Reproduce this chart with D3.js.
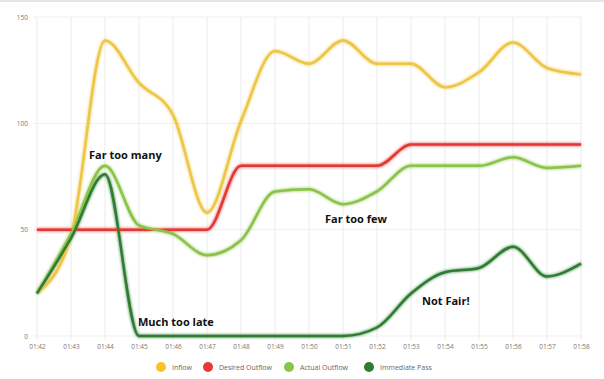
<!DOCTYPE html>
<html>
<head>
<meta charset="utf-8">
<script src="https://cdn.jsdelivr.net/npm/d3@7"></script>
<style>
body { margin: 0; background: #fff; }
svg { display: block; }
</style>
</head>
<body>
<div id="chart"></div>
<script>
const timeLabels = ['01:42','01:43','01:44','01:45','01:46','01:47','01:48','01:49','01:50','01:51','01:52','01:53','01:54','01:55','01:56','01:57','01:58'];
const yTicks = [0, 50, 100, 150];

const inflow         = [20, 47, 139, 119, 104, 58, 101, 134, 128, 139, 128, 128, 117, 124, 138, 126, 123];
const desiredOutflow = [50, 50, 50, 50, 50, 50, 80, 80, 80, 80, 80, 90, 90, 90, 90, 90, 90];
const actualOutflow  = [20, 48, 80, 52, 48, 38, 45, 68, 69, 62, 68, 80, 80, 80, 84, 79, 80];
const immediatePass  = [20, 46, 76, 0, 0, 0, 0, 0, 0, 0, 4, 20, 30, 32, 42, 28, 34];

const seriesNames  = ['Inflow', 'Desired Outflow', 'Actual Outflow', 'Immediate Pass'];
const seriesColors = ['#eec646', '#e53935', '#8bc34a', '#2e7d32'];
const seriesValues = [inflow, desiredOutflow, actualOutflow, immediatePass];

const notes = [
  {text: 'Far too many', t: '01:44', v: 83, dx: -16},
  {text: 'Far too few', t: '01:51', v: 53, dx: -18},
  {text: 'Much too late', t: '01:45', v: 4.5, dx: -1},
  {text: 'Not Fair!', t: '01:54', v: 14.5, dx: -23}
];

const W = 604, H = 379;
const svg = d3.select('#chart').append('svg').attr('width', W).attr('height', H);

// faint card edge at top
svg.append('rect').attr('x', 0).attr('y', 0).attr('width', W).attr('height', 2).attr('fill', '#e6e6e6');

const defs = svg.append('defs');
const f = defs.append('filter').attr('id', 'glow').attr('x', '-5%').attr('y', '-5%').attr('width', '110%').attr('height', '110%');
f.append('feGaussianBlur').attr('in', 'SourceGraphic').attr('stdDeviation', 1.6).attr('result', 'b');
const fm = f.append('feMerge');
fm.append('feMergeNode').attr('in', 'b');
fm.append('feMergeNode').attr('in', 'SourceGraphic');

const x = d3.scalePoint().domain(timeLabels).range([37, 581]);
const y = d3.scaleLinear().domain([0, 150]).range([336, 17]);

// grid
const grid = svg.append('g');
grid.selectAll('line.v').data(timeLabels).enter().append('line')
  .attr('x1', d => x(d)).attr('x2', d => x(d))
  .attr('y1', y(150)).attr('y2', y(0) + 4)
  .attr('stroke', '#ebebeb').attr('stroke-width', 1);
grid.selectAll('line.h').data(yTicks).enter().append('line')
  .attr('x1', x(timeLabels[0]) - 4).attr('x2', x(timeLabels[timeLabels.length - 1]))
  .attr('y1', d => y(d)).attr('y2', d => y(d))
  .attr('stroke', '#efefef').attr('stroke-width', 1);

// axes
const yAxis = svg.append('g').attr('transform', `translate(${x(timeLabels[0]) - 9},0)`)
  .call(d3.axisLeft(y).tickValues(yTicks).tickSize(0).tickPadding(0));
yAxis.select('.domain').remove();
yAxis.selectAll('text').attr('font-family', 'Open Sans, sans-serif').attr('font-size', 6.5).attr('fill', '#777');

const xAxis = svg.append('g').attr('transform', `translate(0,${y(0) + 6})`)
  .call(d3.axisBottom(x).tickSize(0).tickPadding(2));
xAxis.select('.domain').remove();
xAxis.selectAll('text').attr('font-family', 'Open Sans, sans-serif').attr('font-size', 6.5).attr('fill', '#777');

// lines
const line = d3.line().x((d, i) => x(timeLabels[i])).y(d => y(d)).curve(d3.curveMonotoneX);
const lines = svg.append('g').attr('filter', 'url(#glow)');
lines.selectAll('path').data(seriesValues).enter().append('path')
  .attr('d', d => line(d))
  .attr('fill', 'none')
  .attr('stroke', (d, i) => seriesColors[i])
  .attr('stroke-width', 2.5)
  .attr('stroke-linejoin', 'round');

// annotations
svg.append('g').selectAll('text').data(notes).enter().append('text')
  .attr('x', d => x(d.t) + d.dx)
  .attr('y', d => y(d.v))
  .attr('font-family', 'Open Sans, sans-serif')
  .attr('font-weight', 700)
  .attr('font-size', 11)
  .attr('fill', '#111')
  .text(d => d.text);

// legend
const legendX = [161, 208, 289, 369];
const lg = svg.append('g');
const items = lg.selectAll('g').data(seriesNames).enter().append('g')
  .attr('transform', (d, i) => `translate(${legendX[i]},367)`);
items.append('circle').attr('r', 5).attr('fill', (d, i) => i === 0 ? '#fbc02d' : seriesColors[i]);
items.append('text').attr('x', 11).attr('y', 2.5)
  .attr('font-family', 'Open Sans, sans-serif').attr('font-size', 7).attr('fill', '#666')
  .text(d => d);
</script>
</body>
</html>
